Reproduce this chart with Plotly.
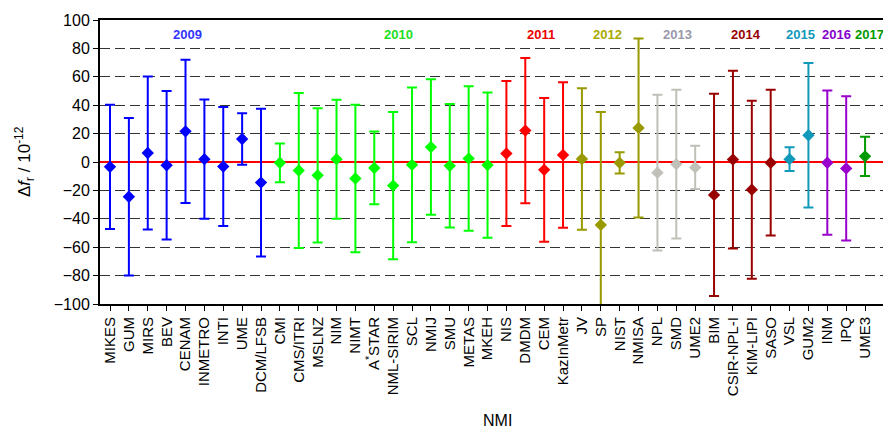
import plotly.graph_objects as go

# ---- data ----
nmi = ["MIKES", "GUM", "MIRS", "BEV", "CENAM", "INMETRO", "INTI", "UME", "DCM/LFSB",
       "CMI", "CMS/ITRI", "MSLNZ", "NIM", "NIMT", "A<sup>*</sup>STAR", "NML-SIRIM", "SCL", "NMIJ",
       "SMU", "METAS", "MKEH",
       "NIS", "DMDM", "CEM", "KazInMetr",
       "JV", "SP", "NIST", "NMISA",
       "NPL", "SMD", "UME2",
       "BIM", "CSIR-NPL-I", "KIM-LIPI", "SASO",
       "VSL", "GUM2",
       "INM", "IPQ",
       "UME3"]
year = ["2009"] * 9 + ["2010"] * 12 + ["2011"] * 4 + ["2012"] * 4 + ["2013"] * 3 + \
       ["2014"] * 4 + ["2015"] * 2 + ["2016"] * 2 + ["2017"] * 1
delta_f = [-3.4, -24.5, 6.3, -2.3, 21.6, 2.0, -3.2, 16.2, -14.5,
           -0.6, -6.0, -9.4, 2.0, -11.6, -4.2, -16.6, -2.0, 10.5,
           -2.7, 2.4, -2.2,
           6.0, 22.1, -5.5, 4.9,
           2.1, -44.3, -0.6, 24.0,
           -7.5, -1.5, -3.8,
           -23.2, 1.7, -19.5, -0.5,
           2.0, 18.8,
           -0.5, -4.5,
           4.0]
uncert = [43.8, 55.5, 53.9, 52.3, 50.4, 42.0, 41.9, 18.2, 52.0,
          13.7, 54.6, 47.3, 41.9, 52.0, 25.6, 51.8, 54.5, 47.7,
          43.5, 50.9, 51.2,
          51.0, 51.2, 50.6, 51.2,
          49.8, 79.5, 7.5, 63.0,
          54.9, 52.4, 15.2,
          71.2, 62.6, 62.7, 51.3,
          8.3, 50.9,
          50.8, 50.8,
          13.8]
years = ["2009", "2010", "2011", "2012", "2013", "2014", "2015", "2016", "2017"]

# ---- styles ----
mark_color = {"2009": "#0000FF", "2010": "#00FF00", "2011": "#FF0000", "2012": "#999900",
              "2013": "#C0C0B8", "2014": "#990000", "2015": "#1199BB", "2016": "#9900CC",
              "2017": "#009900"}
label_color = {"2009": "#3333FF", "2010": "#22DD22", "2011": "#EE0000", "2012": "#AAAA00",
               "2013": "#9999AA", "2014": "#990000", "2015": "#1199BB", "2016": "#8800CC",
               "2017": "#009900"}
label_pos = {"2009": 4.13, "2010": 15.3, "2011": 22.83, "2012": 26.38, "2013": 30.04,
             "2014": 33.7, "2015": 36.56, "2016": 38.46, "2017": 40.26}

FONT = "Liberation Sans, Arial, sans-serif"

fig = go.Figure()
for y in years:
    idx = [i for i, v in enumerate(year) if v == y]
    fig.add_trace(go.Scatter(
        x=[nmi[i] for i in idx],
        y=[delta_f[i] for i in idx],
        mode="markers",
        marker=dict(symbol="diamond", size=9.5, color=mark_color[y]),
        error_y=dict(type="data", array=[uncert[i] for i in idx], visible=True,
                     color=mark_color[y], thickness=2, width=5),
        showlegend=False,
        cliponaxis=True,
    ))

annotations = []
for y in years:
    annotations.append(dict(x=label_pos[y], y=90, xref="x", yref="y", text="<b>%s</b>" % y,
                            showarrow=False, font=dict(family=FONT, size=13, color=label_color[y]),
                            xanchor="center", yanchor="middle"))
annotations.append(dict(x=-76 / 783, y=0.5, xref="paper", yref="paper",
                        text="Δ<i>f</i><sub>r</sub> / 10<sup>-12</sup>", textangle=-90,
                        showarrow=False, font=dict(family=FONT, size=17, color="black"),
                        xanchor="center", yanchor="middle"))
annotations.append(dict(x=397 / 783, y=-(420 - 304) / 284, xref="paper", yref="paper",
                        text="NMI", showarrow=False,
                        font=dict(family=FONT, size=16, color="black"),
                        xanchor="center", yanchor="middle"))

fig.update_layout(
    width=883, height=428,
    margin=dict(l=100, r=0, t=20, b=124),
    paper_bgcolor="white", plot_bgcolor="white",
    font=dict(family=FONT, color="black"),
    annotations=annotations,
    xaxis=dict(
        type="category", categoryorder="array", categoryarray=nmi,
        range=[-0.53, 40.95],
        showgrid=False, zeroline=False,
        showline=True, linecolor="black", linewidth=2, mirror=True,
        ticks="outside", ticklen=5, tickcolor="black", tickwidth=1,
        tickangle=-90, tickfont=dict(family=FONT, size=15, color="black"),
    ),
    yaxis=dict(
        range=[-100, 100], dtick=20, tick0=0,
        showgrid=True, gridcolor="#333333", gridwidth=1, griddash="10px,5px",
        zeroline=True, zerolinecolor="#FF0000", zerolinewidth=2,
        showline=True, linecolor="black", linewidth=2,
        ticks="outside", ticklen=5, tickcolor="black", tickwidth=1,
        tickfont=dict(family=FONT, size=16, color="black"),
    ),
)

fig.write_html(
    "out.html",
    config={"displayModeBar": False},
    post_script="document.body.style.margin='0';document.body.style.padding='0';"
                "document.body.style.overflow='hidden';"
                "document.documentElement.style.overflow='hidden';",
)
